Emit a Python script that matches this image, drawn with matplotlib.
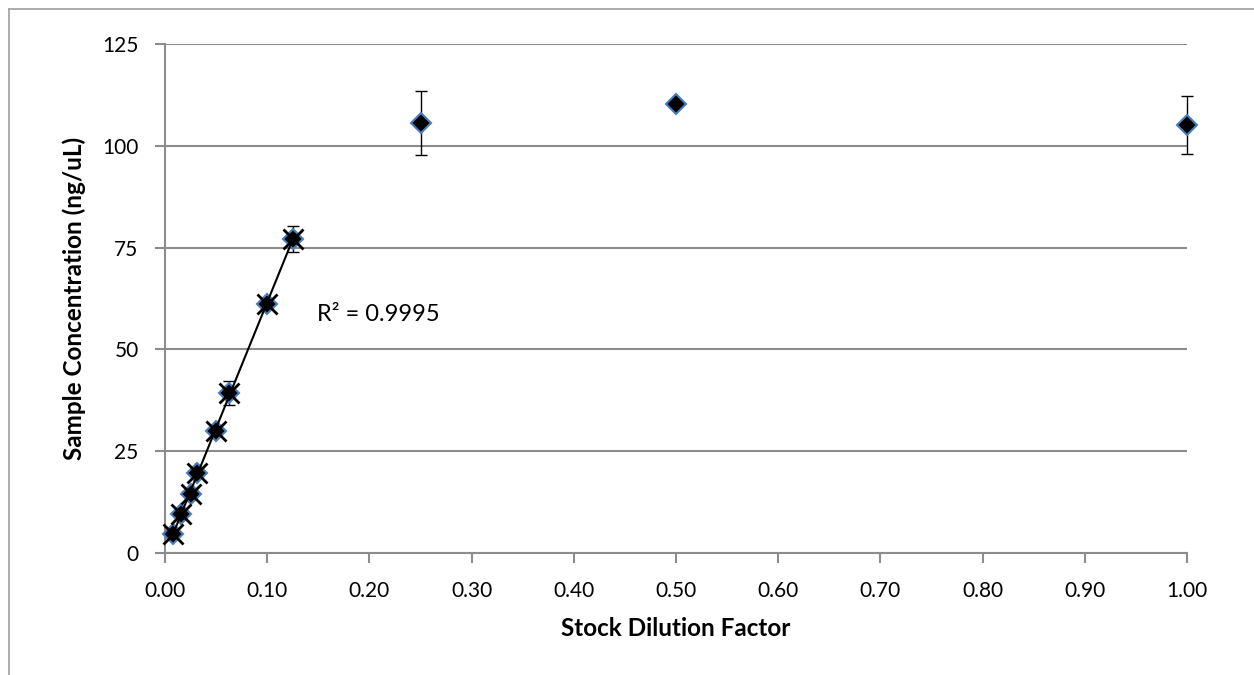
import numpy as np
import matplotlib
matplotlib.use("Agg")
import matplotlib.pyplot as plt
from matplotlib.lines import Line2D

plt.rcParams['font.family'] = ['Lato', 'DejaVu Sans']

# ---------- data ----------
dilution = [0.0078125, 0.015625, 0.025, 0.03125, 0.05, 0.0625, 0.1, 0.125, 0.25, 0.5, 1.0]
conc = [4.6, 9.6, 14.5, 19.6, 30.0, 39.3, 61.2, 77.1, 105.6, 110.2, 105.2]
conc_err = [0.5, 0.5, 0.5, 0.5, 0.8, 3.0, 0.8, 3.3, 7.8, 0.4, 7.1]
n_linear = 8  # points in the linear range
x_ticks = [0.0, 0.1, 0.2, 0.3, 0.4, 0.5, 0.6, 0.7, 0.8, 0.9, 1.0]
y_ticks = [0, 25, 50, 75, 100, 125]
r2_label = "R\u00b2 = 0.9995"

GRID = "#8c8c8c"

fig = plt.figure(figsize=(12.54, 6.75), dpi=100)
ax = fig.add_axes([165 / 1254, 1 - 553 / 675, (1187 - 165) / 1254, (553 - 44) / 675])

# outer chart frame (clipped at right / bottom like the reference)
fig.add_artist(Line2D([9 / 1254, 9 / 1254], [0, 1 - 9 / 675], color="#a0a0a0", lw=1.2))
fig.add_artist(Line2D([9 / 1254, 1], [1 - 9 / 675, 1 - 9 / 675], color="#a0a0a0", lw=1.2))

# error bars + diamonds for all points
eb = ax.errorbar(dilution, conc, yerr=conc_err, fmt='none', ecolor='black',
                 elinewidth=1.0, capsize=4.3, capthick=1.0, zorder=3)
for art in eb.get_children():
    art.set_clip_on(False)
ax.plot(dilution, conc, linestyle='none', marker='D', markersize=10,
        markerfacecolor='black', markeredgecolor='#4a7ebb', markeredgewidth=1.5,
        zorder=4, clip_on=False)

# linear-range points with X markers and trendline
xl = np.array(dilution[:n_linear])
yl = np.array(conc[:n_linear])
ax.plot(xl, yl, linestyle='none', marker='x', markersize=14,
        markeredgecolor='black', markeredgewidth=2, zorder=5, clip_on=False)
slope, icpt = np.polyfit(xl, yl, 1)
xs = np.array([xl.min(), xl.max()])
ax.plot(xs, slope * xs + icpt, color='black', lw=1.5, zorder=4)
ax.text(0.149, 58.5, r2_label, fontsize=17, va='center', ha='left')

ax.set_xlim(0, 1.0)
ax.set_ylim(0, 125)
ax.set_xticks(x_ticks)
ax.set_xticklabels([f"{t:.2f}" for t in x_ticks])
ax.set_yticks(y_ticks)
ax.grid(axis='y', color=GRID, lw=1.5)
ax.set_axisbelow(True)

for side in ['top', 'right']:
    ax.spines[side].set_visible(False)
for side in ['left', 'bottom']:
    ax.spines[side].set_color(GRID)
    ax.spines[side].set_linewidth(1.5)
ax.tick_params(axis='both', colors=GRID, width=1.5, length=7, labelsize=15, labelcolor='black')
ax.tick_params(axis='y', pad=12)
ax.tick_params(axis='x', pad=13)

ax.set_xlabel("Stock Dilution Factor", fontsize=17.5, fontweight='bold', labelpad=12)
ax.set_ylabel("Sample Concentration (ng/uL)", fontsize=17.5, fontweight='bold', labelpad=12)

fig.savefig("out.png", dpi=100)
